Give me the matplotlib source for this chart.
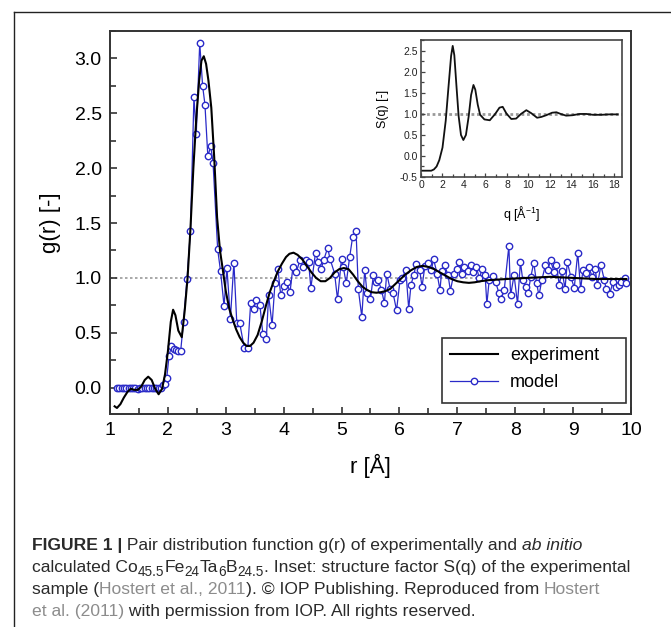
import matplotlib
matplotlib.use('Agg')
import matplotlib.pyplot as plt
from matplotlib.lines import Line2D
from matplotlib.patches import Rectangle
from matplotlib.ticker import MultipleLocator

plt.rcParams['font.family'] = ['Liberation Sans', 'DejaVu Sans']
plt.rcParams['mathtext.default'] = 'regular'
plt.rcParams['axes.unicode_minus'] = False

# experiment g(r)
exp_r = [1.08, 1.12, 1.18, 1.24, 1.30, 1.36, 1.42, 1.48, 1.54, 1.60, 1.66, 1.72, 1.78, 1.84, 1.90,
         1.95, 2.00, 2.05, 2.09, 2.13, 2.18, 2.24, 2.29, 2.34, 2.39, 2.44, 2.49, 2.54, 2.58, 2.62,
         2.66, 2.70, 2.75, 2.80, 2.85, 2.90, 2.95, 3.00, 3.06, 3.12, 3.18, 3.24, 3.30, 3.36, 3.42,
         3.48, 3.55, 3.62, 3.69, 3.76, 3.83, 3.90, 3.97, 4.04, 4.10, 4.17, 4.24, 4.32, 4.40, 4.48,
         4.56, 4.64, 4.72, 4.80, 4.88, 4.96, 5.04, 5.12, 5.20, 5.28, 5.36, 5.44, 5.52, 5.60, 5.68,
         5.76, 5.84, 5.92, 6.00, 6.10, 6.20, 6.30, 6.40, 6.50, 6.60, 6.70, 6.80, 6.90, 7.00, 7.10,
         7.20, 7.30, 7.40, 7.55, 7.70, 7.85, 8.00, 8.20, 8.40, 8.60, 8.80, 9.00, 9.20, 9.40, 9.60,
         9.80, 9.92]
exp_g = [-0.17, -0.185, -0.15, -0.09, -0.04, -0.01, -0.02, -0.02, 0.01, 0.07, 0.10, 0.07, -0.01, -0.06, -0.01,
         0.12, 0.33, 0.60, 0.71, 0.66, 0.52, 0.46, 0.70, 1.00, 1.45, 2.00, 2.45, 2.80, 2.98, 3.02,
         2.95, 2.80, 2.55, 2.10, 1.55, 1.25, 1.07, 0.88, 0.72, 0.62, 0.53, 0.46, 0.41, 0.38, 0.38,
         0.41, 0.48, 0.60, 0.74, 0.87, 0.97, 1.06, 1.13, 1.19, 1.22, 1.23, 1.21, 1.17, 1.11, 1.05,
         1.00, 0.97, 0.97, 1.00, 1.05, 1.08, 1.09, 1.08, 1.03, 0.97, 0.92, 0.89, 0.87, 0.865, 0.87,
         0.88, 0.90, 0.94, 0.98, 1.03, 1.07, 1.10, 1.11, 1.10, 1.08, 1.05, 1.02, 0.99, 0.97, 0.96,
         0.955, 0.96, 0.97, 0.98, 0.985, 0.99, 0.995, 1.00, 1.005, 1.01, 1.005, 1.00, 0.995, 0.99, 0.99,
         0.99, 0.99]

# ab initio model g(r), blue circles
model_r = [1.12, 1.16, 1.20, 1.24, 1.28, 1.32, 1.36, 1.40, 1.44, 1.48, 1.52, 1.56, 1.60, 1.64, 1.68,
           1.72, 1.76, 1.80, 1.84, 1.88, 1.91, 1.95, 1.98, 2.02, 2.06, 2.10, 2.14, 2.18, 2.22, 2.27,
           2.33, 2.39, 2.45, 2.49, 2.55, 2.60, 2.64, 2.69, 2.74, 2.78, 2.86, 2.91, 2.97, 3.02, 3.08,
           3.14, 3.19, 3.24, 3.32, 3.38, 3.43, 3.48, 3.53, 3.59, 3.64, 3.70, 3.74, 3.80, 3.85, 3.90,
           3.95, 4.00, 4.05, 4.11, 4.16, 4.22, 4.28, 4.33, 4.38, 4.43, 4.47, 4.55, 4.60, 4.65, 4.69,
           4.76, 4.80, 4.88, 4.93, 5.00, 5.03, 5.08, 5.14, 5.19, 5.25, 5.29, 5.35, 5.40, 5.44, 5.50,
           5.55, 5.59, 5.63, 5.69, 5.74, 5.78, 5.84, 5.89, 5.95, 6.01, 6.05, 6.11, 6.16, 6.20, 6.25,
           6.29, 6.35, 6.39, 6.44, 6.49, 6.55, 6.59, 6.65, 6.70, 6.73, 6.78, 6.84, 6.88, 6.94, 6.99,
           7.03, 7.08, 7.12, 7.18, 7.23, 7.27, 7.33, 7.38, 7.43, 7.48, 7.51, 7.55, 7.61, 7.66, 7.72,
           7.76, 7.81, 7.89, 7.92, 7.98, 8.04, 8.09, 8.13, 8.18, 8.22, 8.27, 8.32, 8.37, 8.41, 8.46,
           8.52, 8.56, 8.61, 8.67, 8.71, 8.76, 8.81, 8.86, 8.90, 8.96, 9.02, 9.08, 9.13, 9.17, 9.22,
           9.27, 9.33, 9.38, 9.42, 9.48, 9.54, 9.57, 9.63, 9.69, 9.74, 9.79, 9.83, 9.89, 9.92]
model_g = [0.0, 0.0, 0.0, 0.0, 0.0, 0.0, 0.0, 0.0, 0.0, -0.01, 0.0, 0.0, 0.0, 0.0, 0.0,
           0.0, 0.0, 0.0, 0.0, 0.0, 0.02, 0.03, 0.09, 0.29, 0.38, 0.35, 0.34, 0.33, 0.33, 0.60,
           0.99, 1.43, 2.65, 2.31, 3.14, 2.75, 2.58, 2.11, 2.20, 2.05, 1.26, 1.06, 0.745, 1.09, 0.63,
           1.14, 0.59, 0.59, 0.36, 0.36, 0.77, 0.72, 0.80, 0.75, 0.49, 0.44, 0.84, 0.57, 0.955, 1.085,
           0.84, 0.93, 0.965, 0.87, 1.10, 1.055, 1.16, 1.10, 1.16, 1.145, 0.91, 1.23, 1.145, 1.085, 1.16,
           1.275, 1.175, 1.04, 0.805, 1.175, 1.10, 0.95, 1.19, 1.37, 1.43, 0.895, 0.645, 1.075, 0.86, 0.81,
           1.025, 0.965, 0.985, 0.89, 0.77, 1.04, 0.895, 0.86, 0.705, 0.98, 1.00, 1.075, 0.72, 0.94, 1.03,
           1.13, 1.07, 0.92, 1.11, 1.135, 1.07, 1.17, 1.04, 0.89, 1.065, 1.115, 1.025, 0.885, 1.04, 1.085,
           1.145, 1.04, 1.10, 1.065, 1.115, 1.055, 1.10, 0.995, 1.085, 1.025, 0.76, 0.98, 1.015, 0.965, 0.86,
           0.81, 0.89, 1.29, 0.84, 1.025, 0.765, 1.145, 0.98, 0.92, 0.86, 1.01, 1.14, 0.95, 0.84, 0.98,
           1.115, 1.07, 1.16, 1.055, 1.115, 0.94, 1.065, 0.90, 1.145, 1.01, 0.91, 1.23, 0.895, 1.075, 1.045,
           1.10, 1.01, 1.085, 0.935, 1.115, 0.98, 0.90, 0.85, 0.965, 0.92, 0.935, 0.965, 1.00, 0.95]

# inset: structure factor S(q)
sq_q = [0.0, 0.5, 0.95, 1.2, 1.45, 1.7, 2.0, 2.3, 2.55, 2.8, 2.95, 3.1, 3.3, 3.5, 3.72,
        3.94, 4.18, 4.44, 4.66, 4.88, 5.05, 5.28, 5.5, 5.9, 6.4, 6.9, 7.3, 7.6, 7.95, 8.4,
        8.85, 9.3, 9.8, 10.25, 10.8, 11.2, 11.65, 12.2, 12.6, 13.0, 13.5, 14.1, 14.75, 15.4, 16.0,
        16.8, 17.5, 18.3]
sq_s = [-0.35, -0.35, -0.35, -0.32, -0.25, -0.1, 0.2, 0.84, 1.62, 2.38, 2.62, 2.4, 1.66, 0.95, 0.5,
        0.38, 0.5, 0.95, 1.45, 1.69, 1.58, 1.22, 0.98, 0.87, 0.85, 1.0, 1.15, 1.17, 1.01, 0.88,
        0.89, 1.0, 1.09, 1.02, 0.91, 0.93, 0.97, 1.03, 1.04, 1.0, 0.96, 0.97, 1.0, 1.0, 0.98,
        0.98, 0.99, 0.99]

W, H = 671, 627
fig = plt.figure(figsize=(W / 100, H / 100), dpi=100)


def px(x0, y0, w, h):
    return [x0 / W, 1 - (y0 + h) / H, w / W, h / H]


# outer figure frame (open to the right and bottom)
fig.add_artist(Line2D([14 / W, 14 / W], [0, 1 - 12 / H], color='#222222', lw=1.0))
fig.add_artist(Line2D([14 / W, 1], [1 - 12 / H, 1 - 12 / H], color='#222222', lw=1.0))

ax = fig.add_axes(px(110, 31, 521, 383))
ax.axhline(1.0, color='#9a9a9a', lw=1.2, ls=(0, (1.5, 1.5)), zorder=1)
ax.plot(exp_r, exp_g, color='black', lw=1.5, label='experiment', zorder=3)
ax.plot(model_r, model_g, color='#2a2ac8', lw=0.9, marker='o', ms=4.6, mfc='white',
        mec='#2a2ac8', mew=1.0, label='model', zorder=2)
ax.set_xlim(1, 10)
ax.set_ylim(-0.24, 3.25)
ax.xaxis.set_major_locator(MultipleLocator(1))
ax.xaxis.set_minor_locator(MultipleLocator(0.5))
ax.yaxis.set_major_locator(MultipleLocator(0.5))
ax.yaxis.set_minor_locator(MultipleLocator(0.25))
ax.tick_params(which='both', direction='in', top=False, right=False, width=1.2, color='#333333')
ax.tick_params(which='major', length=5, labelsize=14, pad=6)
ax.tick_params(which='minor', length=4)
for s in ax.spines.values():
    s.set_color('#333333')
    s.set_linewidth(1.4)
ax.set_xlabel('r [Å]', fontsize=16)
ax.set_ylabel('g(r) [-]', fontsize=16)
ax.xaxis.set_label_coords(0.5, -0.105)
ax.yaxis.set_label_coords(-0.095, 0.5)

# legend without its own frame; the box is drawn separately (extra room on the right)
leg = ax.legend(loc='upper left', bbox_to_anchor=(450 / W, 1 - 347 / H),
                bbox_transform=fig.transFigure, borderaxespad=0, borderpad=0, fontsize=13,
                frameon=False, handlelength=2.65, handletextpad=0.67, labelspacing=0.55)
fig.add_artist(Rectangle((442 / W, 1 - 403 / H), 184 / W, 65 / H, transform=fig.transFigure,
                         fill=False, edgecolor='#333333', lw=1.2))

# inset
ins = fig.add_axes(px(421, 40, 201, 137))
ins.axhline(1.0, color='#999999', lw=2.0, ls=(0, (1, 1)), zorder=1)
ins.plot(sq_q, sq_s, color='#111111', lw=1.3, zorder=2)
ins.set_xlim(0, 18.7)
ins.set_ylim(-0.5, 2.76)
ins.xaxis.set_major_locator(MultipleLocator(2))
ins.xaxis.set_minor_locator(MultipleLocator(1))
ins.yaxis.set_major_locator(MultipleLocator(0.5))
ins.yaxis.set_minor_locator(MultipleLocator(0.25))
ins.tick_params(which='both', direction='in', top=False, right=False, width=0.9,
                color='#444444', labelcolor='#222222')
ins.tick_params(which='major', length=3, labelsize=7.5, pad=2.5)
ins.tick_params(which='minor', length=2)
for s in ins.spines.values():
    s.set_color('#444444')
    s.set_linewidth(1.2)
ins.set_xlabel('q [Å$^{-1}$]', fontsize=9)
ins.set_ylabel('S(q) [-]', fontsize=9)
ins.xaxis.set_label_coords(0.5, -0.2)
ins.yaxis.set_label_coords(-0.16, 0.5)

# caption, drawn piece by piece (grey link text, real subscripts)
txt = '#2a2a2a'
link = '#8c8c8c'
cap_size = 12.6
N, B, I, S = 'n', 'b', 'i', 's'
caption = [
    (550, [('FIGURE 1 |', txt, B), (' Pair distribution function g(r) of experimentally and ', txt, N),
           ('ab initio', txt, I)]),
    (572, [('calculated Co', txt, N), ('45.5', txt, S), ('Fe', txt, N), ('24', txt, S), ('Ta', txt, N),
           ('6', txt, S), ('B', txt, N), ('24.5', txt, S),
           ('. Inset: structure factor S(q) of the experimental', txt, N)]),
    (594, [('sample (', txt, N), ('Hostert et al., 2011', link, N),
           ('). © IOP Publishing. Reproduced from ', txt, N), ('Hostert', link, N)]),
    (616, [('et al. (2011)', link, N), (' with permission from IOP. All rights reserved.', txt, N)]),
]

renderer = fig.canvas.get_renderer()
for y, pieces in caption:
    x = 32
    for s, c, kind in pieces:
        size = cap_size * 0.78 if kind == S else cap_size
        yy = y + 4 if kind == S else y
        t = fig.text(x / W, 1 - yy / H, s, color=c, fontsize=size,
                     fontweight='bold' if kind == B else 'normal',
                     fontstyle='italic' if kind == I else 'normal', ha='left', va='baseline')
        x += t.get_window_extent(renderer).width

fig.savefig('out.png', dpi=100)
